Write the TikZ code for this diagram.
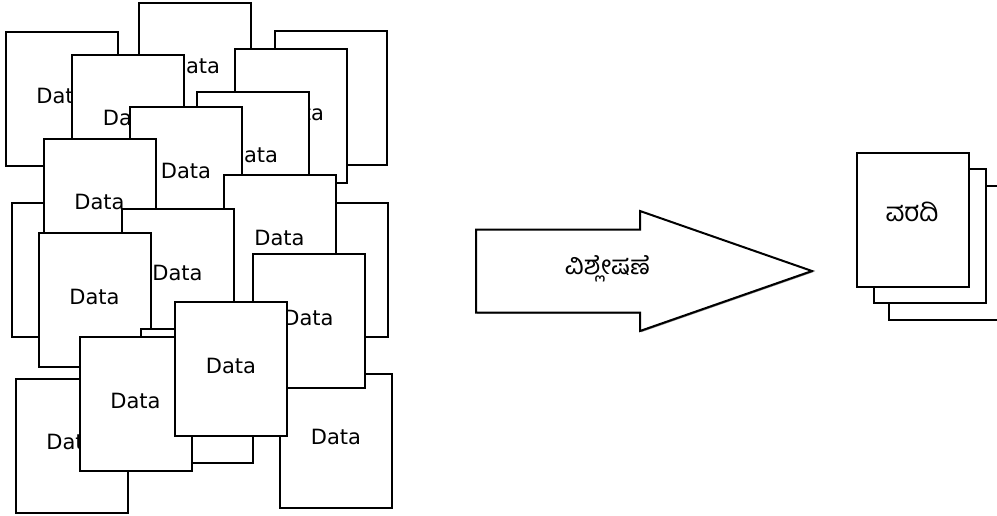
\documentclass[tikz,border=0pt]{standalone}
\usepackage{fontspec}
\setmainfont{DejaVu Sans}
\newfontfamily\kannada[Script=Kannada]{Hind Mysuru}
\usetikzlibrary{shadows}
\begin{document}
\begin{tikzpicture}[x=1pt,y=-1pt,
  softshadow/.style={drop shadow={shadow xshift=1.2pt,shadow yshift=-1.2pt,fill=black!60,opacity=0.8}},
  page/.style={rectangle,draw=black,line width=2pt,fill=white,minimum width=112pt,minimum height=134pt,
    inner sep=0pt,font=\fontsize{21}{24}\selectfont,text height=15pt,text depth=7pt,softshadow},
  pagetext/.style={font=\fontsize{21}{24}\selectfont,inner sep=0pt},
  bigarrow/.style={draw=black,line width=2pt,fill=white,line join=miter,softshadow},
  kntext/.style={font=\kannada\fontsize{26}{30}\selectfont,inner sep=0pt}]
\useasboundingbox[fill=white] (0,0) rectangle (997,515);
% data pages, from back to front
\node[page] (p1)  at (61.5,99)    {Data};
\node[page] (p2)  at (195,69.5)   {Data};
\node[page] (p4)  at (331,98)     {};
\node[page] (p11) at (68,270)     {};
\node[page] (p12) at (332,270)    {};
\node[page] (p3)  at (128,121.5)  {Data};
\node[page,label={[pagetext,shift={(8pt,3pt)}]center:Data}] (p5) at (291,115.5) {};
\node[page] (p6)  at (253,158.5)  {Data};
\node[page] (p7)  at (186,174)    {Data};
\node[page] (p8)  at (99.5,205.5) {Data};
\node[page] (p9)  at (279.5,241.5){Data};
\node[page] (p10) at (177.5,276)  {Data};
\node[page] (p13) at (94.5,300)   {Data};
\node[page] (p15) at (197,396)    {};
\node[page] (p18) at (71.5,445.5) {Data};
\node[page] (p19) at (336,440.5)  {Data};
\node[page] (p14) at (308.5,321)  {Data};
\node[page] (p16) at (135.5,404)  {Data};
\node[page] (p17) at (231,369)    {Data};
% analysis arrow
\draw[bigarrow] (476,229.5) -- (640,229.5) -- (640,211) -- (812,271)
  -- (640,331) -- (640,312.5) -- (476,312.5) -- cycle;
\node[kntext] (analysis) at (607.5,268.5) {ವಿಶ್ಲೇಷಣೆ};
% report stack
\node[page] (r3) at (944.5,253)  {};
\node[page] (r2) at (930,235.5)  {};
\node[page] (r1) at (913,219.5)  {};
\node[kntext] (report) at (912,212) {ವರದಿ};
\end{tikzpicture}
\end{document}
